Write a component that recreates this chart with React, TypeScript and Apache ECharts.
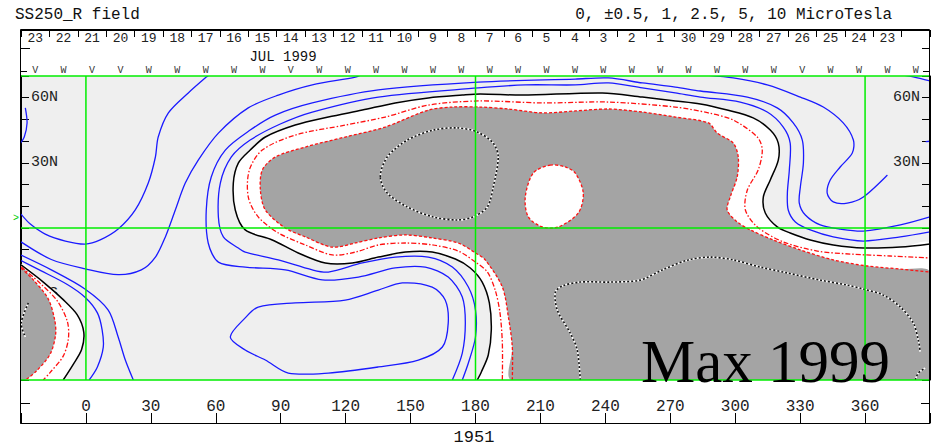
import React, { useEffect, useRef } from 'react';
import * as echarts from 'echarts';

type P = [number, number];

const MONO = "'Liberation Mono', 'DejaVu Sans Mono', monospace";
const SERIF = "'Liberation Serif', 'DejaVu Serif', serif";

// Axis ranges / labels
const LON_MIN = -30;
const LON_MAX = 390;
const LAT_MIN = -70;
const LAT_MAX = 70;
const LAT_LABELS: Record<string, string> = { '60': '60N', '30': '30N', '-30': '30S', '-60': '60S' };
const DATE_LABELS = ['23', '22', '21', '20', '19', '18', '17', '16', '15', '14', '13', '12', '11', '10', '9', '8', '7', '6', '5', '4', '3', '2', '1', '30', '29', '28', '27', '26', '25', '24', '23', ''];
const WIND_LABELS = ['V', 'W', 'V', 'V', 'W', 'W', 'W', 'W', 'W', 'V', 'W', 'W', 'W', 'W', 'W', 'W', 'W', 'W', 'W', 'W', 'W', 'W', 'W', 'W', 'W', 'W', 'W', 'V', 'W', 'W', 'W', 'W'];
const GREEN_MERIDIANS = [0, 180, 360];
const GREEN_PARALLELS = [70, 0, -70];

// Zero contour (black) – main feature, from the bottom edge round to the right edge
const BLACK_MAIN: P[] = [[180.8, -70], [182.7, -66.3], [185.9, -58.5], [187.3, -47], [186.4, -34.5], [183.1, -24.9], [177.6, -18.4], [170.7, -14.3], [160, -11.1], [147.6, -11.1], [135.1, -13.4], [123.1, -16.1], [110.6, -16.1], [98.1, -11.5], [86.1, -5.5], [73.6, -0.9], [69, 8.3], [68.1, 20.7], [70.4, 29.9], [75.9, 35.9], [82.9, 41.9], [96.7, 47.4], [112, 51.1], [127.7, 54.3], [142.9, 57.6], [158.2, 59.9], [173.9, 61.2], [182.2, 61.7], [201.6, 61.2], [238.6, 62.2], [257.1, 60.3], [272.3, 58.5], [283.9, 57.1], [296.3, 54.3], [308.3, 50.7], [316.2, 45.1], [319.9, 39.1], [319.9, 31.3], [316.2, 22.1], [313, 14.3], [313.9, 6.9], [319.4, 0.5], [325.4, -2.3], [334.7, -5.5], [345.3, -7.8], [359.2, -9.2], [376.3, -8.8], [390, -7.4]];
const BLACK_LEFT: P[] = [[-30, -17], [-19.7, -24.9], [-10.5, -33], [-4, -40], [-1, -48], [-2, -56], [-6, -63], [-10.5, -70]];

// Shaded (strong positive) regions
const GRAY_MAIN: P[] = [[197, -70], [197, -54.8], [195.2, -41], [192.4, -27.2], [184.5, -14.7], [180, -11.5], [172, -6.9], [160, -4.6], [147.6, -3.2], [135.1, -4.6], [124.5, -6.9], [113.8, -8.8], [101.4, -4.1], [92.1, 0], [82.9, 8.3], [80.6, 17.5], [81.5, 26.7], [87.5, 32.7], [101.4, 37.3], [119.8, 41.9], [138.3, 46.5], [158.2, 54.3], [169.3, 55.7], [182.2, 55.7], [195.2, 54.8], [210.9, 53], [226.1, 53.9], [241.4, 54.8], [257.1, 53.4], [272.3, 51.1], [287.6, 48.4], [291.7, 43.7], [299.1, 39.1], [301.4, 32.7], [300.9, 23.5], [297.7, 14.3], [296.3, 8.3], [300.9, 2.8], [307, -0.9], [317.6, -5.5], [330.1, -10.1], [345.3, -14.7], [361, -17.5], [376.3, -18.9], [390, -20.3]];
const GRAY_LEFT: P[] = [[-30, -18.5], [-24.3, -23.9], [-17.5, -32.5], [-14.5, -42], [-14, -49], [-16.5, -58], [-23, -66], [-28, -70]];
const WHITE_HOLE: P[] = [[214.5, 29], [221.5, 28.1], [226.1, 25.3], [229.8, 16.1], [227.5, 6.9], [218.3, 0.5], [210.9, 0.5], [204.4, 5.1], [203, 14.3], [206.7, 25.3]];

// Red dash-dot contour between zero line and shading
const RED_MAIN: P[] = [[192.4, -70], [192.4, -53], [191.3, -39], [189.1, -28.6], [185.5, -20.3], [180, -15.7], [172, -10.6], [160, -7.8], [147.6, -6.9], [135.1, -7.8], [124.5, -11.1], [113.8, -12.4], [101.4, -7.8], [88.9, -2.3], [79.6, 5.1], [75, 14.3], [75.5, 26.7], [81.5, 35.9], [96.7, 42.8], [119.8, 47.4], [138.3, 51.1], [158.2, 56.6], [181.3, 58.5], [210.9, 57.6], [241.4, 58], [272.3, 55.7], [287.6, 53], [299.1, 49.7], [310.2, 41.9], [312.5, 35.9], [310.6, 26.7], [305.6, 17.5], [304.7, 8.3], [310.2, 0.5], [322.2, -6.4], [337.9, -10.6], [353.2, -12], [371.6, -12.9], [390, -13.8]];
const RED_LEFT: P[] = [[-30, -17.8], [-21.1, -25.5], [-13.3, -33.5], [-8.6, -43], [-8.1, -51], [-10.5, -59], [-16.5, -66.5], [-19.7, -70]];

// Blue (negative) contours
const BLUE_1: P[] = [[-30, 6.4], [-25.7, 1.8], [-18.8, -2.8], [-9.5, -6], [-0.3, -7.4], [6.6, -5.5], [14.9, -0.5], [22.8, 8.3], [28.8, 20.7], [32.1, 32.7], [33.4, 41.9], [38.1, 53], [47.3, 62.2], [55.6, 69.5], [57, 70.5]];
const BLUE_2: P[] = [[-30, -6.4], [-16, -14.5], [-0.3, -18.8], [14.9, -21.5], [25.6, -19.3], [32.1, -13.4], [36.7, -4.1], [41.3, 8.3], [45.9, 20.7], [51.9, 31.3], [61.2, 43.7], [75, 55.3], [88.9, 61.2], [104.6, 65.9], [124.5, 69.5], [127, 70.5]];
const BLUE_3: P[] = [[169.3, -70], [173.9, -57.6], [175.3, -43.8], [173.9, -31.8], [167.4, -22.6], [156.8, -18], [142.9, -18.4], [125.9, -22.6], [109.2, -23.9], [92.1, -19.3], [73.6, -18], [61.2, -15.7], [56.5, -6.9], [55.6, 8.3], [57.9, 23.5], [64.4, 35.9], [75.9, 45.1], [87.5, 52], [104.6, 57.6], [135.1, 63.6], [181.3, 67.2], [226.1, 68.6], [241.4, 69.1], [257.1, 66.8], [272.3, 64.9], [283.9, 63.1], [305.6, 60.3], [319.4, 55.3], [326.8, 48.4], [331, 40.5], [331.5, 29.9], [330.1, 18.9], [329.6, 11.5], [332.4, 6], [339.3, 1.4], [348.5, -0.5], [359.2, -1.4], [376.3, 1.4], [390, 5.1]];
const BLUE_4: P[] = [[173.9, -70], [176.7, -62.2], [180, -50.2], [180, -37.8], [176.7, -27.2], [169.3, -18], [158.2, -13.4], [142.9, -13.4], [127.7, -16.1], [112, -20.3], [104.6, -19.3], [88.9, -14.7], [73.6, -11.1], [70.4, -9.2], [63.5, -4.1], [61.2, 5.1], [62.1, 20.7], [67.2, 32.7], [75.9, 40.5], [89.8, 47.9], [104.6, 53.4], [135.1, 60.3], [181.3, 64.5], [203, 65.9], [226.1, 65.9], [241.4, 66.8], [257.1, 64.5], [272.3, 62.2], [283.9, 60.3], [302.3, 58], [314.8, 53.4], [322.2, 46.5], [325.4, 39.1], [325, 26.7], [324.1, 16.1], [324.5, 8.3], [327.8, 2.8], [334.7, -0.9], [345.3, -4.1], [359.2, -6], [376.3, -4.1], [390, -1.8]];
const BLUE_LOOP: P[] = [[66.7, -50.2], [73.6, -41.4], [79.6, -36.4], [96.7, -34.5], [119.8, -33.2], [135.1, -28.6], [146.2, -25.3], [160, -27.2], [166, -33.2], [167.4, -43.8], [164.7, -54.8], [153.6, -60.8], [135.1, -64], [112, -66.8], [93.5, -66.8], [82.9, -60.8], [73.6, -56.2]];
const BLUE_6: P[] = [[-30, -15], [-21.1, -19.5], [-8.6, -26], [-0.3, -32], [5.3, -39.1], [7.5, -47], [8, -55], [5.3, -64], [1.5, -70]];
const BLUE_7: P[] = [[-30, -12.5], [-16, -19.3], [-0.3, -28.2], [10.3, -37.8], [14.9, -50.2], [18.2, -60.8], [21.9, -70]];
const BLUE_HOOK: P[] = [[285.5, 70.5], [299.1, 69.1], [314.8, 65.9], [330.1, 60.3], [340.7, 55.7], [349.9, 48.4], [354.6, 40.5], [354.1, 34.5], [348.5, 28.1], [343.9, 22.1], [342.5, 16.1], [345.3, 12], [351.8, 11.5], [359.2, 14.3], [370.3, 24.4]];
const BLUE_TOP_RIGHT: P[] = [[377, 70.5], [382.3, 69.6], [390, 67.7]];
const BLUE_RIGHT_EDGE: P[] = [[388, 39.8], [390.5, 40]];
const BLUE_LEFT_EDGE: P[] = [[-28, 55.3], [-27.2, 48.4], [-28.5, 41.9], [-30.5, 38.8]];

// Dotted (strongest) contours inside the shading
const DOT_NORTH: P[] = [[136, 23.5], [139.2, 32.7], [148.5, 40.5], [160.5, 45.1], [171.6, 46.1], [180.8, 44.2], [188.2, 39.1], [190.5, 32.7], [188.2, 18.9], [185.5, 9.7], [179, 5.1], [171.6, 3.7], [160.5, 5.1], [148.5, 9.7], [139.2, 16.1]];
const DOT_SOUTH: P[] = [[228.4, -70], [227, -56.2], [223.8, -48.4], [217.8, -37.8], [216.9, -29.5], [220.1, -26.7], [228.4, -24.9], [242.3, -24.9], [256.1, -24], [266.3, -19.3], [278.3, -14.7], [288.5, -13.4], [299.1, -14.7], [311.6, -18], [324.1, -20.7], [339.3, -24], [351.8, -26.3], [359.2, -28.1], [368.4, -30.9], [376.3, -36.4], [382.3, -43.8], [384.6, -51.6], [385.5, -57.1]];
const DOT_CORNER: P[] = [[383.2, -70], [384.6, -66.8], [387.8, -64.5]];
const DOT_LEFT: P[] = [[-26.6, -34.5], [-29.9, -43.8], [-28, -50.2]];

const SMOOTH = 0.3;
const BLUE = '#1a1aff';
const RED = '#ff1010';

function shape(name: string, pts: P[], kind: 'fill' | 'line' | 'loop', style: any, corner?: P): any {
  return {
    type: 'custom',
    name,
    coordinateSystem: 'cartesian2d',
    clip: true,
    silent: true,
    data: pts,
    encode: { x: 0, y: 1 },
    renderItem: (params: any, api: any) => {
      if (params.dataIndex !== 0) return null;
      const points = pts.map((p) => api.coord(p));
      if (kind === 'fill') {
        if (corner) {
          const c = api.coord(corner);
          points.push(c, [c[0], c[1]]);
        }
        return { type: 'polygon', shape: { points, smooth: SMOOTH }, style: { fill: style.fill, stroke: 'none' } };
      }
      if (kind === 'loop') {
        return { type: 'polygon', shape: { points, smooth: SMOOTH }, style: { fill: 'none', ...style } };
      }
      return { type: 'polyline', shape: { points, smooth: SMOOTH }, style: { fill: 'none', ...style } };
    },
  };
}

const blue = { stroke: BLUE, lineWidth: 1.3 };
const black = { stroke: '#000', lineWidth: 1.5 };
const redDashDot = { stroke: RED, lineWidth: 1.3, lineDash: [5, 2, 1.5, 2] };
const redDash = { stroke: RED, lineWidth: 1.3, lineDash: [3, 2] };
const dotWhite = { stroke: '#ffffff', lineWidth: 1.6 };
const dotBlack = { stroke: '#111', lineWidth: 1.6, lineDash: [2, 2] };

function buildOption(): any {
  const series: any[] = [
    shape('white-main', BLACK_MAIN, 'fill', { fill: '#ffffff' }, [LON_MAX, LAT_MIN]),
    shape('white-left', BLACK_LEFT, 'fill', { fill: '#ffffff' }, [LON_MIN, LAT_MIN]),
    shape('gray-main', GRAY_MAIN, 'fill', { fill: '#a4a4a4' }, [LON_MAX, LAT_MIN]),
    shape('gray-left', GRAY_LEFT, 'fill', { fill: '#a4a4a4' }, [LON_MIN, LAT_MIN]),
    shape('hole', WHITE_HOLE, 'fill', { fill: '#ffffff' }),
    shape('b1', BLUE_1, 'line', blue),
    shape('b2', BLUE_2, 'line', blue),
    shape('b3', BLUE_3, 'line', blue),
    shape('b4', BLUE_4, 'line', blue),
    shape('b5', BLUE_LOOP, 'loop', blue),
    shape('b6', BLUE_6, 'line', blue),
    shape('b7', BLUE_7, 'line', blue),
    shape('hook', BLUE_HOOK, 'line', blue),
    shape('btr', BLUE_TOP_RIGHT, 'line', blue),
    shape('bre', BLUE_RIGHT_EDGE, 'line', blue),
    shape('ble', BLUE_LEFT_EDGE, 'line', blue),
    shape('k0', BLACK_MAIN, 'line', black),
    shape('k1', BLACK_LEFT, 'line', black),
    shape('r1', RED_MAIN, 'line', redDashDot),
    shape('r2', RED_LEFT, 'line', redDashDot),
    shape('g1', GRAY_MAIN, 'line', redDash),
    shape('g2', GRAY_LEFT, 'line', redDash),
    shape('h1', WHITE_HOLE, 'loop', redDash),
    shape('dn-w', DOT_NORTH, 'loop', dotWhite),
    shape('dn-k', DOT_NORTH, 'loop', dotBlack),
    shape('ds-w', DOT_SOUTH, 'line', dotWhite),
    shape('ds-k', DOT_SOUTH, 'line', dotBlack),
    shape('dc-w', DOT_CORNER, 'line', dotWhite),
    shape('dc-k', DOT_CORNER, 'line', dotBlack),
    shape('dl-w', DOT_LEFT, 'line', dotWhite),
    shape('dl-k', DOT_LEFT, 'line', dotBlack),
    {
      type: 'custom',
      name: 'green-grid',
      coordinateSystem: 'cartesian2d',
      clip: false,
      silent: true,
      data: [[0, 0]],
      renderItem: (params: any, api: any) => {
        const children: any[] = [];
        GREEN_MERIDIANS.forEach((lon) => {
          const a = api.coord([lon, LAT_MIN]);
          const b = api.coord([lon, LAT_MAX]);
          children.push({ type: 'line', shape: { x1: a[0], y1: a[1], x2: b[0], y2: b[1] }, style: { stroke: '#00ee00', lineWidth: 1.5 } });
        });
        GREEN_PARALLELS.forEach((lat) => {
          const a = api.coord([LON_MIN, lat]);
          const b = api.coord([LON_MAX, lat]);
          children.push({ type: 'line', shape: { x1: a[0], y1: a[1], x2: b[0], y2: b[1] }, style: { stroke: '#00ee00', lineWidth: 1.5 } });
        });
        return { type: 'group', children };
      },
    },
  ];

  const latAxis = (position: 'left' | 'right') => ({
    type: 'value',
    position,
    min: LAT_MIN,
    max: LAT_MAX,
    interval: 10,
    axisLine: { show: true, onZero: false, lineStyle: { color: '#000', width: 1 } },
    axisTick: { show: true, inside: true, length: 8, lineStyle: { color: '#000' } },
    axisLabel: {
      inside: true,
      margin: 10,
      color: '#222',
      fontFamily: MONO,
      fontSize: 15,
      formatter: (v: number) => LAT_LABELS[String(v)] ?? '',
    },
    splitLine: { show: false },
  });

  return {
    animation: false,
    backgroundColor: '#ffffff',
    grid: { left: 21, right: 7, top: 76, bottom: 67, show: true, backgroundColor: '#efefef', borderWidth: 0, containLabel: false },
    xAxis: [
      {
        type: 'value',
        position: 'bottom',
        offset: 43,
        min: LON_MIN,
        max: LON_MAX,
        interval: 30,
        axisLine: { show: true, onZero: false, lineStyle: { color: '#000', width: 1 } },
        axisTick: { show: true, inside: true, length: 10, lineStyle: { color: '#000' } },
        axisLabel: {
          inside: true,
          margin: 8,
          color: '#222',
          fontFamily: MONO,
          fontSize: 16,
          formatter: (v: number) => (v < 0 || v > 360 ? '' : String(v)),
        },
        splitLine: { show: false },
      },
      {
        type: 'category',
        position: 'top',
        offset: 46,
        data: DATE_LABELS,
        boundaryGap: true,
        axisLine: { show: true, onZero: false, lineStyle: { color: '#000', width: 1 } },
        axisTick: { show: true, inside: true, length: 7, interval: 0, lineStyle: { color: '#000' } },
        axisLabel: { inside: true, margin: 2, interval: 0, color: '#222', fontFamily: MONO, fontSize: 13 },
        splitLine: { show: false },
      },
      {
        type: 'category',
        position: 'top',
        offset: 0,
        data: WIND_LABELS,
        boundaryGap: true,
        axisLine: { show: false, onZero: false },
        axisTick: { show: false },
        axisLabel: { margin: 1, interval: 0, color: '#333', fontFamily: MONO, fontSize: 10 },
        splitLine: { show: false },
      },
    ],
    yAxis: [latAxis('left'), latAxis('right')],
    series,
    graphic: [
      { type: 'rect', z: 100, silent: true, shape: { x: 20.5, y: 29.5, width: 909, height: 394 }, style: { fill: 'none', stroke: '#000', lineWidth: 1 } },
      { type: 'line', z: 100, silent: true, shape: { x1: 21, y1: 48.5, x2: 30, y2: 48.5 }, style: { stroke: '#000', lineWidth: 1 } },
      { type: 'line', z: 100, silent: true, shape: { x1: 21, y1: 71.5, x2: 27, y2: 71.5 }, style: { stroke: '#000', lineWidth: 1 } },
      { type: 'line', z: 100, silent: true, shape: { x1: 922, y1: 48.5, x2: 930, y2: 48.5 }, style: { stroke: '#000', lineWidth: 1 } },
      { type: 'line', z: 100, silent: true, shape: { x1: 923, y1: 71.5, x2: 930, y2: 71.5 }, style: { stroke: '#000', lineWidth: 1 } },
      { type: 'line', z: 100, silent: true, shape: { x1: 21, y1: 403.5, x2: 30, y2: 403.5 }, style: { stroke: '#000', lineWidth: 1 } },
      { type: 'line', z: 100, silent: true, shape: { x1: 921, y1: 403.5, x2: 930, y2: 403.5 }, style: { stroke: '#000', lineWidth: 1 } },
      { type: 'text', z: 100, silent: true, x: 15, y: 15, style: { text: 'SS250_R field', fontFamily: MONO, fontSize: 16, fill: '#111', align: 'left', verticalAlign: 'middle' } },
      { type: 'text', z: 100, silent: true, x: 892, y: 15, style: { text: '0, \u00b10.5, 1, 2.5, 5, 10 MicroTesla', fontFamily: MONO, fontSize: 16, fill: '#111', align: 'right', verticalAlign: 'middle' } },
      { type: 'text', z: 100, silent: true, x: 283, y: 57, style: { text: 'JUL 1999', fontFamily: MONO, fontSize: 14, lineHeight: 14, fill: '#111', align: 'center', verticalAlign: 'middle' } },
      { type: 'text', z: 100, silent: true, x: 16, y: 218, style: { text: '>', fontFamily: MONO, fontSize: 10, fill: '#00cc00', align: 'center', verticalAlign: 'middle' } },
      { type: 'text', z: 100, silent: true, x: 474, y: 437, style: { text: '1951', fontFamily: MONO, fontSize: 17, fill: '#111', align: 'center', verticalAlign: 'middle' } },
      { type: 'text', z: 110, silent: true, x: 641, y: 361, style: { text: 'Max 1999', fontFamily: SERIF, fontSize: 61, lineHeight: 40, fill: '#000', align: 'left', verticalAlign: 'middle' } },
    ],
  };
}

export default function App() {
  const ref = useRef<HTMLDivElement>(null);
  useEffect(() => {
    if (!ref.current) return;
    const chart = echarts.init(ref.current, null, { renderer: 'svg' });
    chart.setOption(buildOption());
    return () => chart.dispose();
  }, []);
  return <div ref={ref} style={{ position: 'fixed', left: 0, top: 0, width: 937, height: 447, background: '#fff' }} />;
}
